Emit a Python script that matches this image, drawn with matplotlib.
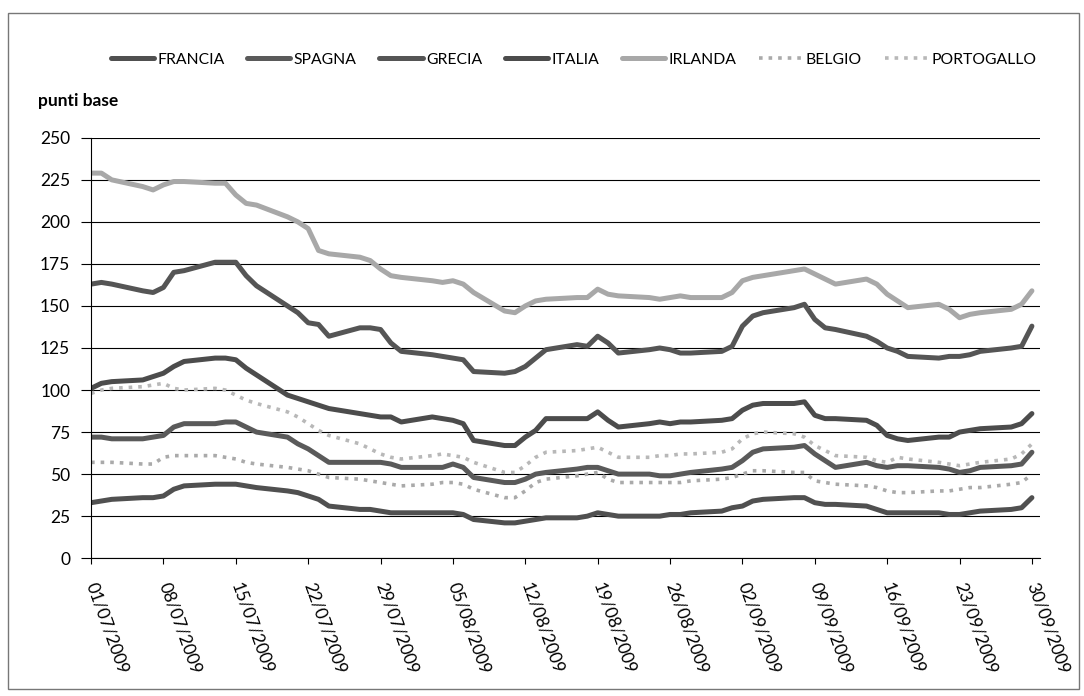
import matplotlib
matplotlib.use("Agg")
import matplotlib.pyplot as plt
from matplotlib.patches import Rectangle
import pandas as pd

plt.rcParams['font.family'] = ['Lato', 'DejaVu Sans']

dates = pd.bdate_range('2009-07-01', '2009-09-30')

francia = [33, 34, 35, 36, 36, 37, 41, 43, 44, 44, 44, 43, 42, 40, 39, 37, 35, 31, 29, 29, 28, 27, 27,
           27, 27, 27, 26, 23, 21, 21, 22, 23, 24, 24, 25, 27, 26, 25, 25, 25, 26, 26, 27, 28,
           30, 31, 34, 35, 36, 36, 33, 32, 32, 31, 29, 27, 27, 27, 27, 26, 26, 27, 28, 29, 30, 36]
spagna = [72, 72, 71, 71, 72, 73, 78, 80, 80, 81, 81, 78, 75, 72, 68, 65, 61, 57, 57, 57, 57, 56, 54,
          54, 54, 56, 54, 48, 45, 45, 47, 50, 51, 53, 54, 54, 52, 50, 50, 49, 49, 50, 51, 53,
          54, 58, 63, 65, 66, 67, 62, 58, 54, 57, 55, 54, 55, 55, 54, 53, 51, 52, 54, 55, 56, 63]
grecia = [163, 164, 163, 159, 158, 161, 170, 171, 176, 176, 176, 168, 162, 150, 146, 140, 139, 132, 137, 137, 136, 128, 123,
          121, 120, 119, 118, 111, 110, 111, 114, 119, 124, 127, 126, 132, 128, 122, 124, 125, 124, 122, 122, 123,
          126, 138, 144, 146, 149, 151, 142, 137, 136, 132, 129, 125, 123, 120, 119, 120, 120, 121, 123, 125, 126, 138]
italia = [101, 104, 105, 106, 108, 110, 114, 117, 119, 119, 118, 113, 109, 97, 95, 93, 91, 89, 86, 85, 84, 84, 81,
          84, 83, 82, 80, 70, 67, 67, 72, 76, 83, 83, 83, 87, 82, 78, 80, 81, 80, 81, 81, 82,
          83, 88, 91, 92, 92, 93, 85, 83, 83, 82, 79, 73, 71, 70, 72, 72, 75, 76, 77, 78, 80, 86]
irlanda = [229, 229, 225, 221, 219, 222, 224, 224, 223, 223, 216, 211, 210, 203, 200, 196, 183, 181, 179, 177, 172, 168, 167,
           165, 164, 165, 163, 158, 147, 146, 150, 153, 154, 155, 155, 160, 157, 156, 155, 154, 155, 156, 155, 155,
           158, 165, 167, 168, 171, 172, 169, 166, 163, 166, 163, 157, 153, 149, 151, 148, 143, 145, 146, 148, 151, 159]
belgio = [57, 57, 57, 56, 56, 60, 61, 61, 61, 60, 59, 57, 56, 54, 53, 52, 50, 48, 47, 46, 45, 44, 43,
          44, 45, 45, 44, 41, 36, 36, 40, 45, 47, 49, 50, 51, 47, 45, 45, 45, 45, 45, 46, 47,
          48, 50, 52, 52, 51, 51, 46, 45, 44, 43, 42, 40, 39, 39, 40, 40, 41, 42, 42, 44, 45, 50]
portogallo = [98, 100, 101, 102, 103, 104, 101, 100, 101, 100, 97, 94, 92, 87, 84, 80, 76, 73, 68, 65, 62, 60, 59,
              61, 62, 61, 60, 57, 51, 51, 55, 60, 63, 64, 65, 66, 63, 60, 60, 61, 61, 62, 62, 63,
              65, 71, 74, 75, 74, 72, 67, 64, 61, 60, 58, 57, 60, 59, 57, 56, 55, 56, 57, 59, 62, 68]

names = ['FRANCIA', 'SPAGNA', 'GRECIA', 'ITALIA', 'IRLANDA', 'BELGIO', 'PORTOGALLO']
series = [francia, spagna, grecia, italia, irlanda, belgio, portogallo]
colors = ['#505050', '#5a5a5a', '#555555', '#4c4c4c', '#a8a8a8', '#aaaaaa', '#b8b8b8']
widths = [3.6, 3.6, 3.6, 3.6, 3.6, 2.6, 2.6]
styles = ['-', '-', '-', '-', '-', ':', ':']

yticks = [0, 25, 50, 75, 100, 125, 150, 175, 200, 225, 250]

fig = plt.figure(figsize=(10.84, 6.96), dpi=100)
ax = fig.add_axes([0.084, 0.198, 0.8755, 0.604])

for name, vals, c, w, s in zip(names, series, colors, widths, styles):
    ax.plot(dates, vals, color=c, lw=w, ls=s, label=name, solid_capstyle='round')

ax.set_ylim(0, 250)
ax.set_yticks(yticks)
ax.set_xlim(pd.Timestamp('2009-07-01'), pd.Timestamp('2009-09-30 19:00'))
ticks = pd.date_range('2009-07-01', '2009-09-30', freq='7D')
ax.set_xticks(ticks)
ax.set_xticklabels([t.strftime('%d/%m/%Y') for t in ticks], rotation=-70,
                   ha='left', va='center', rotation_mode='anchor', fontsize=12.5)
ax.tick_params(axis='x', direction='out', length=4, pad=14, color='black')
ax.tick_params(axis='y', direction='out', length=7, labelsize=12.5, pad=8)
ax.grid(axis='y', color='black', lw=0.8)
ax.set_axisbelow(True)
for sp in ['top', 'right']:
    ax.spines[sp].set_visible(False)
ax.spines['left'].set_color('black')
ax.spines['bottom'].set_color('black')

fig.legend(loc='center left', bbox_to_anchor=(0.089, 0.914), ncol=7, frameon=False,
           fontsize=11.3, handlelength=2.75, columnspacing=1.45, handletextpad=0.22)

fig.text(0.035, 0.855, 'punti base', fontsize=12.5, fontweight='bold', ha='left', va='center')

fig.patches.append(Rectangle((0.007, 0.01), 0.988, 0.972, transform=fig.transFigure,
                             fill=False, edgecolor='#777777', lw=1))

fig.savefig('out.png', dpi=100)
